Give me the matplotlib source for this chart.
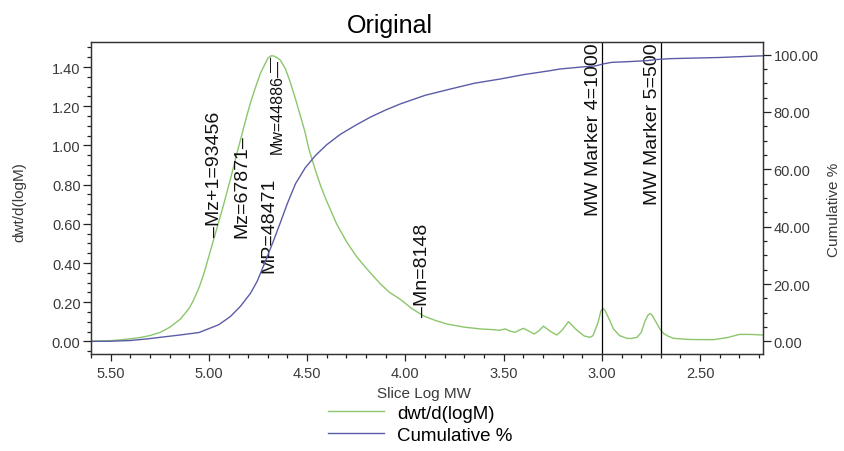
import numpy as np
import matplotlib
matplotlib.use("Agg")
import matplotlib.pyplot as plt
from matplotlib.ticker import MultipleLocator, FormatStrFormatter

plt.rcParams['font.family'] = ['Liberation Sans', 'DejaVu Sans']

# dwt/d(logM) trace
log_mw = [5.60, 5.50, 5.43, 5.35, 5.30, 5.246, 5.20, 5.144, 5.10, 5.076, 5.05,
          5.026, 5.00, 4.97, 4.93, 4.89, 4.86, 4.839, 4.81, 4.788, 4.76, 4.737,
          4.71, 4.70, 4.6855, 4.67, 4.65, 4.636, 4.61, 4.585, 4.56, 4.534, 4.51,
          4.492, 4.46, 4.43, 4.40, 4.35, 4.30, 4.25, 4.20, 4.16, 4.127, 4.08,
          4.026, 3.97, 3.911, 3.85, 3.789, 3.70, 3.619, 3.551, 3.52, 3.492,
          3.465, 3.441, 3.42, 3.399, 3.37, 3.344, 3.32, 3.297, 3.26, 3.229, 3.20,
          3.170, 3.13, 3.09, 3.060, 3.045, 3.02, 3.005, 2.995, 2.985, 2.965,
          2.941, 2.91, 2.873, 2.85, 2.822, 2.80, 2.78, 2.765, 2.755, 2.745,
          2.725, 2.705, 2.685, 2.665, 2.636, 2.55, 2.433, 2.36, 2.30, 2.25, 2.18]
dwt = [0.002, 0.004, 0.010, 0.020, 0.030, 0.047, 0.072, 0.115, 0.170, 0.215,
       0.275, 0.345, 0.435, 0.540, 0.680, 0.830, 0.950, 1.030, 1.140, 1.220,
       1.305, 1.370, 1.425, 1.445, 1.457, 1.457, 1.446, 1.435, 1.390, 1.320,
       1.240, 1.150, 1.065, 0.985, 0.880, 0.790, 0.715, 0.600, 0.510, 0.435,
       0.375, 0.330, 0.293, 0.250, 0.215, 0.170, 0.132, 0.108, 0.089, 0.073,
       0.064, 0.060, 0.057, 0.064, 0.052, 0.047, 0.058, 0.067, 0.052, 0.038,
       0.055, 0.078, 0.050, 0.033, 0.060, 0.101, 0.060, 0.028, 0.021, 0.030,
       0.095, 0.155, 0.169, 0.160, 0.118, 0.064, 0.030, 0.016, 0.015, 0.021,
       0.045, 0.105, 0.135, 0.142, 0.135, 0.100, 0.064, 0.040, 0.028, 0.016,
       0.010, 0.009, 0.020, 0.036, 0.036, 0.033]

# cumulative % trace
log_cum = [5.60, 5.50, 5.40, 5.314, 5.25, 5.15, 5.05, 4.95, 4.89, 4.84, 4.788,
           4.754, 4.712, 4.67, 4.636, 4.60, 4.559, 4.51, 4.458, 4.40, 4.331,
           4.25, 4.178, 4.10, 4.026, 3.90, 3.771, 3.65, 3.517, 3.40, 3.263,
           3.212, 3.10, 3.03, 2.99, 2.95, 2.85, 2.77, 2.72, 2.65, 2.40, 2.18]
cum = [0.0, 0.05, 0.3, 0.87, 1.4, 2.2, 3.1, 5.8, 8.7, 12.2, 16.8, 21.0, 28.0,
       35.3, 41.5, 48.2, 55.0, 60.5, 64.8, 68.6, 72.2, 75.5, 78.2, 80.7, 82.8,
       85.8, 88.0, 90.0, 91.5, 93.0, 94.4, 95.0, 95.7, 96.1, 96.8, 97.3, 97.6,
       97.9, 98.3, 98.6, 99.0, 99.6]

# averages and markers
avg_names = ['Mz+1', 'Mz', 'MP', 'Mw', 'Mn']
avg_values = [93456, 67871, 48471, 44886, 8148]
marker_names = ['MW Marker 4', 'MW Marker 5']
marker_values = [1000, 500]

green = '#8cc66c'
blue = '#5b5ca8'
grey = '#3a3a3a'

fig = plt.figure(figsize=(8.44, 4.52), dpi=100)
ax = fig.add_axes([91/844, 97/452, 672/844, 312/452])
ax2 = ax.twinx()

ax.plot(log_mw, dwt, color=green, lw=1.0, label='dwt/d(logM)')
ax2.plot(log_cum, cum, color=blue, lw=1.0, label='Cumulative %')

ax.set_xlim(5.60, 2.18)
ax.set_ylim(-0.064, 1.528)
ax2.set_ylim(-4.4, 104.4)

ax.xaxis.set_major_locator(MultipleLocator(0.5))
ax.xaxis.set_minor_locator(MultipleLocator(0.1))
ax.yaxis.set_major_locator(MultipleLocator(0.2))
ax.yaxis.set_minor_locator(MultipleLocator(0.05))
ax2.yaxis.set_major_locator(MultipleLocator(20))
ax2.yaxis.set_minor_locator(MultipleLocator(5))
ax.xaxis.set_major_formatter(FormatStrFormatter('%.2f'))
ax.yaxis.set_major_formatter(FormatStrFormatter('%.2f'))
ax2.yaxis.set_major_formatter(FormatStrFormatter('%.2f'))

for a in (ax, ax2):
    a.tick_params(which='major', direction='out', length=6, width=0.9,
                  labelsize=10.5, labelcolor=grey, color='#222222', pad=1.5)
    a.tick_params(which='minor', direction='out', length=3.2, width=0.9,
                  color='#222222')
    for s in a.spines.values():
        s.set_color('#333333')
        s.set_linewidth(0.9)
ax.tick_params(axis='x', which='major', length=5.3, pad=3)

ax.set_xlabel('Slice Log MW', fontsize=11, color=grey)
ax.xaxis.set_label_coords(0.4955, -0.103)
ax.set_ylabel('dwt/d(logM)', fontsize=11, color=grey)
ax.yaxis.set_label_coords(-0.107, 0.49)
ax.yaxis.label.set_va('center')
ax2.set_ylabel('Cumulative %', fontsize=11, color=grey)
ax2.yaxis.set_label_coords(1.1057, 0.465)
ax2.yaxis.label.set_va('center')

ax.set_title('Original', fontsize=18, x=0.445, pad=7)

# marker lines with labels
trans = ax.get_xaxis_transform()
for name, mw in zip(marker_names, marker_values):
    lx = np.log10(mw)
    ax.axvline(lx, color='black', lw=0.9)
    ax.text(lx, 0.998, f'{name}={mw}', transform=trans, rotation=90,
            ha='right', va='top', fontsize=14, color='#111111')

# molecular weight average labels
lx = dict((n, np.log10(v)) for n, v in zip(avg_names, avg_values))
ly = dict((n, np.interp(lx[n], log_mw[::-1], dwt[::-1])) for n in avg_names)
lab = dict((n, f'{n}={v}') for n, v in zip(avg_names, avg_values))
txt = dict(rotation=90, ha='center', color='#111111')

ax.text(lx['Mz+1'], ly['Mz+1'], '\u2013' + lab['Mz+1'], va='bottom',
        fontsize=14, **txt)
ax.text(lx['Mz'], ly['Mz'], lab['Mz'] + '\u2013', va='top', fontsize=14, **txt)
ax.text(lx['MP'], ly['MP'], '\u2014', va='top', fontsize=11, **txt)
ax.annotate(lab['MP'], xy=(lx['MP'], ly['MP']), xytext=(-1.4, -87),
            textcoords='offset points', va='top', fontsize=14, **txt)
ax.text(lx['Mw'], ly['Mw'], lab['Mw'] + '\u2014', va='top', fontsize=11.5,
        **txt)
ax.text(lx['Mn'], ly['Mn'], '\u2013' + lab['Mn'], va='bottom', fontsize=14,
        **txt)

h1, l1 = ax.get_legend_handles_labels()
h2, l2 = ax2.get_legend_handles_labels()
fig.legend(h1 + h2, l1 + l2, loc='upper center', bbox_to_anchor=(0.4976, 0.102),
           frameon=False, fontsize=13.5, handlelength=3.0, handletextpad=0.7,
           labelspacing=0.25, borderpad=0, borderaxespad=0)

fig.savefig('out.png', dpi=100)
